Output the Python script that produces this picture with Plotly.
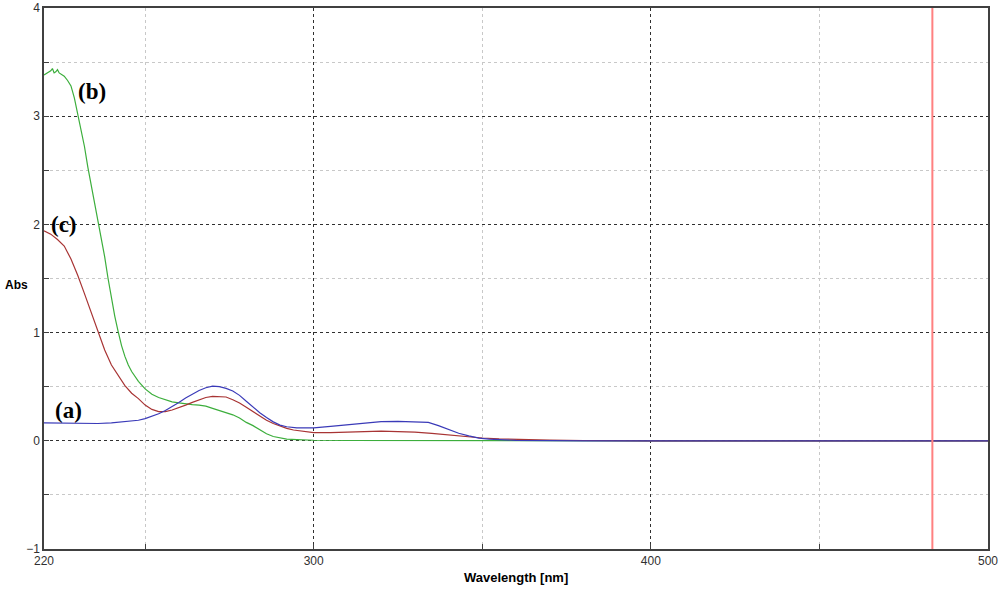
import plotly.graph_objects as go

# (a) blue spectrum
wl_a = [220, 230, 236, 240, 244, 248, 250, 252, 254, 256, 258, 260, 262, 264, 266, 268, 270, 272,
        274, 276, 278, 280, 282, 284, 286, 288, 290, 292, 295, 300, 305, 310, 315, 320, 325, 330,
        334, 337, 340, 343, 346, 349, 352, 356, 360, 370, 380, 500]
abs_a = [0.166, 0.16, 0.16, 0.165, 0.178, 0.19, 0.205, 0.225, 0.25, 0.28, 0.315, 0.355, 0.395, 0.43,
         0.465, 0.49, 0.505, 0.5, 0.485, 0.46, 0.42, 0.365, 0.31, 0.26, 0.215, 0.175, 0.145, 0.13,
         0.12, 0.12, 0.133, 0.147, 0.162, 0.177, 0.18, 0.177, 0.17, 0.14, 0.105, 0.07, 0.045, 0.025,
         0.015, 0.008, 0.004, 0.001, 0.0, 0.0]

# (b) green spectrum
wl_b = [220, 221, 222, 222.5, 223, 223.5, 224, 224.5, 225, 226, 227, 228, 229, 230, 231, 232, 233,
        234, 235, 236, 237, 238, 239, 240, 241, 242, 243, 244, 245, 246, 248, 250, 252, 254, 256,
        258, 260, 262, 264, 266, 268, 270, 272, 274, 276, 278, 280, 282, 284, 286, 288, 290, 292,
        295, 300, 310, 320, 340, 360, 400, 500]
abs_b = [3.38, 3.40, 3.42, 3.44, 3.40, 3.41, 3.43, 3.40, 3.39, 3.37, 3.33, 3.28, 3.17, 3.03, 2.88,
         2.72, 2.53, 2.36, 2.20, 2.05, 1.88, 1.70, 1.50, 1.31, 1.15, 1.01, 0.88, 0.78, 0.70, 0.64,
         0.55, 0.48, 0.43, 0.40, 0.38, 0.36, 0.35, 0.34, 0.335, 0.33, 0.32, 0.30, 0.28, 0.26, 0.24,
         0.21, 0.17, 0.14, 0.10, 0.065, 0.04, 0.025, 0.015, 0.01, 0.005, 0.003, 0.002, 0.001, 0.0,
         0.0, 0.0]

# (c) red spectrum
wl_c = [220, 222, 224, 226, 228, 230, 232, 234, 236, 238, 240, 242, 244, 246, 248, 250, 252, 254,
        256, 258, 260, 262, 264, 266, 268, 270, 272, 274, 276, 278, 280, 282, 284, 286, 288, 290,
        292, 294, 296, 300, 305, 310, 315, 320, 325, 330, 335, 340, 345, 350, 355, 360, 370, 380,
        390, 400, 500]
abs_c = [1.94, 1.91, 1.86, 1.80, 1.68, 1.53, 1.36, 1.19, 1.00, 0.84, 0.70, 0.60, 0.51, 0.44, 0.39,
         0.33, 0.29, 0.27, 0.27, 0.285, 0.305, 0.33, 0.355, 0.38, 0.40, 0.41, 0.41, 0.405, 0.38,
         0.35, 0.31, 0.27, 0.23, 0.19, 0.16, 0.135, 0.115, 0.10, 0.09, 0.075, 0.075, 0.08, 0.085,
         0.09, 0.085, 0.08, 0.068, 0.052, 0.04, 0.026, 0.018, 0.012, 0.006, 0.003, 0.001, 0.0, 0.0]

cursor_wl = 483.5

labels = ["(a)", "(b)", "(c)"]
label_x = [227.2, 234.3, 226.0]
label_y = [0.28, 3.23, 2.0]

fig = go.Figure()
fig.add_trace(go.Scatter(x=wl_b, y=abs_b, mode="lines", line=dict(color="#3cae3c", width=1.2), name="b"))
fig.add_trace(go.Scatter(x=wl_c, y=abs_c, mode="lines", line=dict(color="#a83434", width=1.2), name="c"))
fig.add_trace(go.Scatter(x=wl_a, y=abs_a, mode="lines", line=dict(color="#3a3ab8", width=1.2), name="a"))

fig.add_vline(x=cursor_wl, line_color="#ff8080", line_width=2)

for txt, lx, ly in zip(labels, label_x, label_y):
    fig.add_annotation(x=lx, y=ly, text=f"<b>{txt}</b>", showarrow=False,
                       font=dict(family="Liberation Serif", size=23, color="black"))

# axis titles as in the reference: "Abs" horizontal beside the axis
fig.add_annotation(xref="paper", yref="paper", x=-0.0434, y=0.488, xanchor="left", text="<b>Abs</b>",
                   showarrow=False, font=dict(family="Liberation Sans", size=12, color="black"))
fig.add_annotation(xref="paper", yref="paper", x=0.5, y=-0.052, yanchor="middle",
                   text="<b>Wavelength [nm]</b>", showarrow=False,
                   font=dict(family="Liberation Sans", size=13, color="black"))

axis_common = dict(showline=True, linecolor="#404040", linewidth=1.5, mirror=True, automargin=False,
                   showgrid=True, gridcolor="#303030", griddash="3px,3px", gridwidth=1,
                   zeroline=False, ticks="inside", ticklen=5, tickcolor="#404040",
                   tickfont=dict(family="Liberation Sans", size=12, color="#303030"))

fig.update_xaxes(range=[220, 500], tickvals=[220, 300, 400, 500],
                 minor=dict(tickvals=[250, 350, 450], showgrid=True, gridcolor="#c8c8c8",
                            griddash="3px,3px", ticks="inside", ticklen=5, tickcolor="#404040"),
                 **axis_common)
fig.update_yaxes(range=[-1, 4], tickvals=[-1, 0, 1, 2, 3, 4], ticklabelstandoff=0,
                 minor=dict(tickvals=[-0.5, 0.5, 1.5, 2.5, 3.5], showgrid=True, gridcolor="#c8c8c8",
                            griddash="3px,3px", ticks="inside", ticklen=5, tickcolor="#404040"),
                 **axis_common)

fig.update_layout(width=1000, height=590, showlegend=False,
                  plot_bgcolor="white", paper_bgcolor="white",
                  margin=dict(l=44, r=12, t=8, b=41))

# drop the page's default body margin so the figure fills the window
fig.write_html("out.html", config={"displayModeBar": False},
               post_script="document.body.style.margin='0';")
